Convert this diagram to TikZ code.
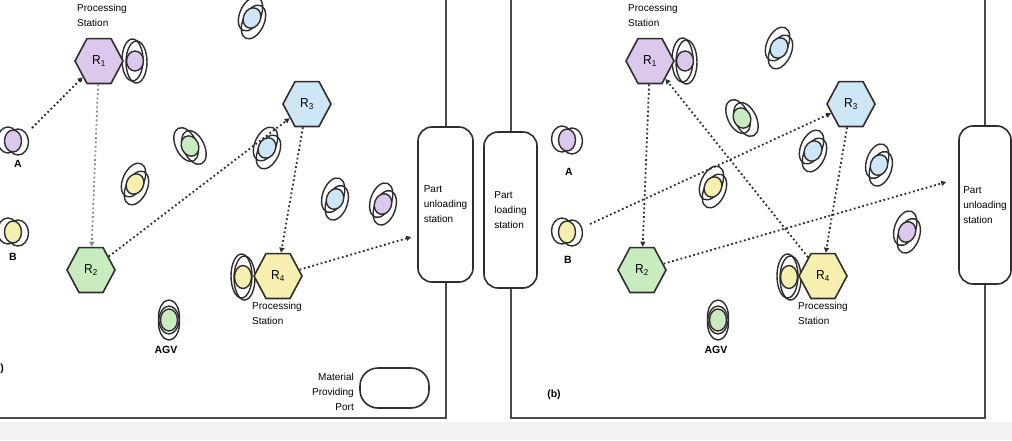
\documentclass[tikz,border=0pt]{standalone}
\usepackage{fontspec}
\setmainfont{Liberation Sans}
\usetikzlibrary{shapes.geometric,arrows.meta}
\definecolor{lilac}{HTML}{DCC8EC}
\definecolor{agvgreen}{HTML}{C8ECC0}
\definecolor{agvblue}{HTML}{CFE6F6}
\definecolor{agvyellow}{HTML}{F6EFB0}
\definecolor{linec}{HTML}{2E2E2E}
\definecolor{framec}{HTML}{4A4A4A}
\definecolor{stripc}{HTML}{F2F2F2}
\definecolor{lightarrow}{HTML}{8A8A8A}
% name, position, rotation, fill colour, outline y radius, fill y radius, offset 1, offset 2
\newcommand{\agvglyph}[8]{%
  \coordinate (#1) at #2;
  \begin{scope}[shift={#2}, rotate=#3]
    \draw[agvline] #7 ellipse [x radius=10.5, y radius=#5];
    \draw[agvline] #8 ellipse [x radius=10.5, y radius=#5];
    \draw[agvline, fill=#4] (0,0) ellipse [x radius=8.5, y radius=#6];
  \end{scope}}
\begin{document}
\begin{tikzpicture}[x=1pt,y=-1pt,
  hexa/.style={draw=linec, line width=1.6pt, regular polygon, regular polygon sides=6,
    minimum size=48pt, inner sep=0pt, yscale=1.08, font=\fontsize{12}{14}\selectfont},
  agvline/.style={draw=linec, line width=1.4pt},
  flow/.style={draw=linec, line width=1.8pt, dash pattern=on 1.8pt off 2.6pt,
    -{Triangle[length=5pt,width=5pt]}},
  lightflow/.style={flow, draw=lightarrow},
  station/.style={draw=linec, line width=1.6pt, rounded corners=14pt, align=left,
    inner sep=0pt, font=\fontsize{10}{15}\selectfont},
  frame/.style={draw=framec, line width=2pt},
  lbl/.style={inner sep=0pt, align=left, font=\fontsize{10}{15}\selectfont},
  blbl/.style={inner sep=0pt, font=\bfseries\fontsize{10.5}{12}\selectfont},
]
\fill[white] (0,0) rectangle (1012,440);
\fill[stripc] (0,422) rectangle (1012,440);
\useasboundingbox (0,0) rectangle (1012,440);
\coordinate (top) at (0,0);
\coordinate (botL) at (0,418);

% stations
\node[station, minimum width=55pt, minimum height=155pt] (UL) at (445.5,204.5) {Part\\unloading\\station};
\node[station, minimum width=53pt, minimum height=156pt] (LS) at (510.5,210) {Part\\loading\\station};
\node[station, minimum width=52pt, minimum height=158pt] (UR) at (985,205) {Part\\unloading\\station};
\node[draw=linec, line width=1.6pt, rounded corners=18pt, minimum width=69pt, minimum height=40pt] (MP) at (394.5,388) {};

% frames
\draw[frame] (UL.north) -- (UL.north |- top);
\draw[frame] (UL.south) -- (UL.south |- botL) -- (botL);
\draw[frame] (LS.north) -- (LS.north |- top);
\draw[frame] (UR.north) -- (UR.north |- top);
\draw[frame] (LS.south) -- (LS.south |- botL) -- (UR.south |- botL) -- (UR.south);

% AGVs left panel
\agvglyph{A}{(13,141)}{0}{lilac}{13}{11}{(-5,-1)}{(5,1)}
\agvglyph{B}{(13,232)}{0}{agvyellow}{13}{11}{(-5,-1)}{(5,1)}
\agvglyph{g1}{(135,61)}{0}{lilac}{21}{10}{(-2.5,-1)}{(1.5,1)}
\agvglyph{g2}{(243,277)}{0}{agvyellow}{22}{11.5}{(-1.5,-1)}{(1.5,1)}
\agvglyph{g3}{(190,146)}{25}{agvgreen}{18}{10.5}{(-3,-3)}{(3,3)}
\agvglyph{g4}{(135,184)}{-25}{agvyellow}{18}{10.5}{(-3,-3)}{(3,3)}
\agvglyph{g5}{(252,18)}{-25}{agvblue}{18}{10.5}{(-3,-3)}{(3,3)}
\agvglyph{g6}{(267,148)}{-25}{agvblue}{18}{10.5}{(-3,-3)}{(3,3)}
\agvglyph{g7}{(335,199)}{-20}{agvblue}{18}{10.5}{(-3,-3)}{(3,3)}
\agvglyph{g8}{(383,204)}{-20}{lilac}{18}{10.5}{(-3,-3)}{(3,3)}
\agvglyph{agv1}{(169,320)}{0}{agvgreen}{17}{11}{(0,-3)}{(0,3)}

% AGVs right panel
\agvglyph{Ar}{(567,140)}{0}{lilac}{13}{11}{(-5,-1)}{(5,1)}
\agvglyph{Br}{(567,232)}{0}{agvyellow}{13}{11}{(-5,-1)}{(5,1)}
\agvglyph{h1}{(685,61)}{0}{lilac}{22}{10}{(-2.5,-1)}{(1.5,1)}
\agvglyph{h2}{(789,277)}{0}{agvyellow}{22}{11.5}{(-1.5,-1)}{(1.5,1)}
\agvglyph{h3}{(742,118)}{25}{agvgreen}{18}{10.5}{(-3,-3)}{(3,3)}
\agvglyph{h4}{(713,187)}{-25}{agvyellow}{18}{10.5}{(-3,-3)}{(3,3)}
\agvglyph{h5}{(779,48)}{-25}{agvblue}{18}{10.5}{(-3,-3)}{(3,3)}
\agvglyph{h6}{(813,151)}{-25}{agvblue}{18}{10.5}{(-3,-3)}{(3,3)}
\agvglyph{h7}{(879,165)}{-20}{agvblue}{18}{10.5}{(-3,-3)}{(3,3)}
\agvglyph{h8}{(907,232)}{-20}{lilac}{18}{10.5}{(-3,-3)}{(3,3)}
\agvglyph{agv2}{(718,320)}{0}{agvgreen}{17}{11}{(0,-3)}{(0,3)}

% processing stations
\node[hexa, fill=lilac] (R1) at (99,61) {R\textsubscript{1}};
\node[hexa, fill=agvgreen] (R2) at (91,270) {R\textsubscript{2}};
\node[hexa, fill=agvblue] (R3) at (307,104) {R\textsubscript{3}};
\node[hexa, fill=agvyellow] (R4) at (278,276) {R\textsubscript{4}};
\node[hexa, fill=lilac] (Rr1) at (650,61) {R\textsubscript{1}};
\node[hexa, fill=agvgreen] (Rr2) at (642,270) {R\textsubscript{2}};
\node[hexa, fill=agvblue] (Rr3) at (851,104) {R\textsubscript{3}};
\node[hexa, fill=agvyellow] (Rr4) at (823,276) {R\textsubscript{4}};

% labels
\node[lbl, anchor=north west] (ps1) at (77,4) {Processing\\Station};
\node[lbl, anchor=north west] (ps4) at (252,302) {Processing\\Station};
\node[lbl, anchor=north west] (ps1r) at (628,4) {Processing\\Station};
\node[lbl, anchor=north west] (ps4r) at (798,302) {Processing\\Station};
\node[lbl, align=right, anchor=east] (mpl) at (354,392) {Material\\Providing\\Port};
\node[blbl] (la) at (18,164) {A};
\node[blbl] (lb) at (13,257) {B};
\node[blbl] (lagv) at (166,350) {AGV};
\node[blbl] (lar) at (569,172) {A};
\node[blbl] (lbr) at (568,260) {B};
\node[blbl] (lagvr) at (716,350) {AGV};
\node[blbl] (pa) at (2,369) {)};
\node[blbl] (pb) at (554,395) {(b)};

% routes left panel
\draw[flow] ([xshift=19pt,yshift=13pt]A) -- ([xshift=-19pt,yshift=-11pt]R1);
\draw[lightflow] ([xshift=-3pt,yshift=-32pt]R1) -- ([xshift=5pt,yshift=41pt]R2);
\draw[flow] ([xshift=29pt,yshift=13pt]R2) -- ([xshift=-31pt,yshift=-8pt]R3);
\draw[flow] ([xshift=-10pt,yshift=-26pt]R3) -- ([xshift=4pt,yshift=36pt]R4);
\draw[flow] ([xshift=19pt,yshift=21pt]R4) -- ([xshift=-6pt,yshift=-32.5pt]UL.west);

% routes right panel
\draw[flow] ([xshift=-3pt,yshift=-36pt]Rr1) -- ([xshift=5pt,yshift=38pt]Rr2);
\draw[flow] ([xshift=23pt,yshift=8pt]Br) -- ([xshift=-32pt,yshift=-9pt]Rr3);
\draw[flow] ([xshift=-16pt,yshift=33pt]Rr4) -- ([xshift=18pt,yshift=-34pt]Rr1);
\draw[flow] ([xshift=-11pt,yshift=-26pt]Rr3) -- ([xshift=4pt,yshift=38pt]Rr4);
\draw[flow] ([xshift=28pt,yshift=15pt]Rr2) -- ([xshift=-12pt,yshift=23pt]UR.west);
\end{tikzpicture}
\end{document}
